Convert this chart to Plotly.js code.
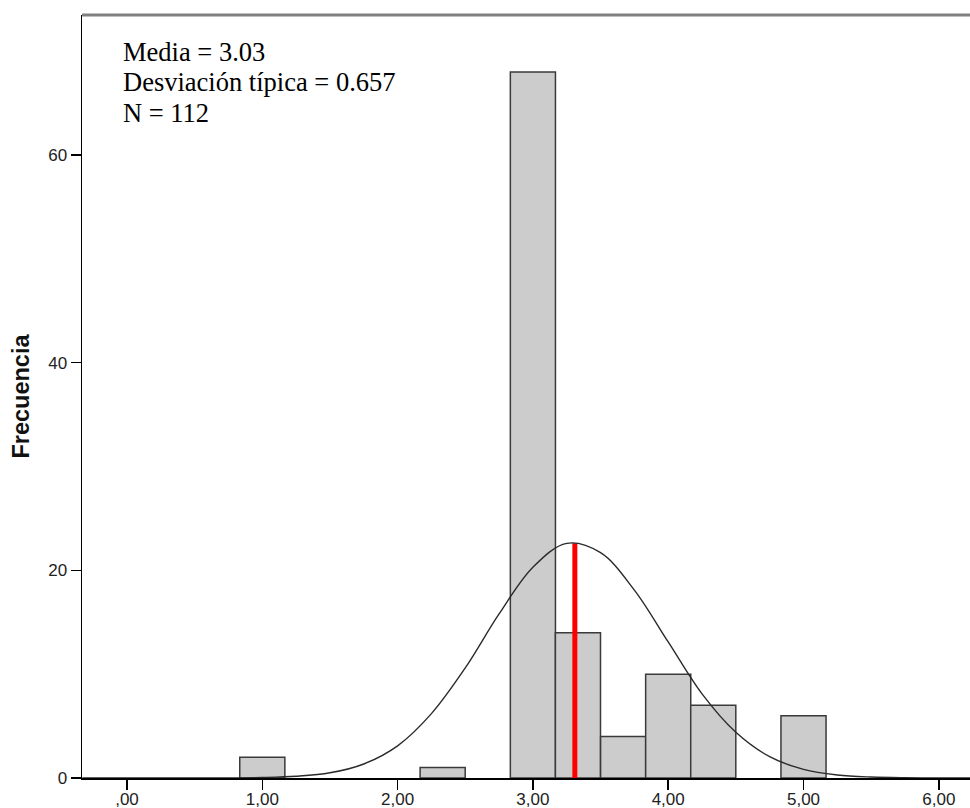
<!DOCTYPE html>
<html>
<head>
<meta charset="utf-8">
<script src="https://cdn.plot.ly/plotly-3.0.1.min.js"></script>
<style>html,body{margin:0;padding:0;background:#fff;}#chart{width:970px;height:808px;}</style>
</head>
<body>
<div id="chart"></div>
<script>
// Histogram bins (centers, width 1/3) and frequencies
const binCenters = [1.0, 2.333, 3.0, 3.333, 3.667, 4.0, 4.333, 5.0];
const binWidth = 0.3333;
const counts = [2, 1, 68, 14, 4, 10, 7, 6];

// Normal curve
const curveX = [-0.33, 0.5, 0.75, 1.0, 1.25, 1.5, 1.75, 2.0, 2.25, 2.5, 2.75, 3.0, 3.25, 3.5, 3.75, 4.0, 4.25, 4.5, 4.75, 5.0, 5.25, 5.5, 5.75, 6.0, 6.25];
const curveY = [0, 0, 0.01, 0.05, 0.17, 0.5, 1.35, 3.1, 6.2, 10.6, 15.8, 20.3, 22.6, 21.7, 18.1, 13.1, 8.1, 4.4, 2.05, 0.83, 0.29, 0.09, 0.02, 0.005, 0];

// Mean marker
const meanX = [3.31, 3.31];
const meanY = [0, 22.6];

// Tick labels
const xTickVals = [0, 1, 2, 3, 4, 5, 6];
const xTickText = [',00', '1,00', '2,00', '3,00', '4,00', '5,00', '6,00'];
const yTickVals = [0, 20, 40, 60];
const yTickText = ['0', '20', '40', '60'];

// Statistics text
const statsLines = ['Media = 3.03', 'Desviación típica = 0.657', 'N = 112'];

const traces = [
  {
    type: 'bar', x: binCenters, y: counts, width: binWidth,
    marker: {color: '#cccccc', line: {color: '#3a3a3a', width: 1.5}},
    hoverinfo: 'x+y', showlegend: false
  },
  {
    type: 'scatter', mode: 'lines', x: meanX, y: meanY,
    line: {color: '#ff0000', width: 5}, showlegend: false
  },
  {
    type: 'scatter', mode: 'lines', x: curveX, y: curveY,
    line: {color: '#2a2a2a', width: 1.4, shape: 'spline', smoothing: 1}, showlegend: false
  }
];

const pxTop = [52, 82.5, 113];
const annotations = statsLines.map((t, i) => ({
  text: t, xref: 'paper', yref: 'paper',
  x: (121 - 82) / 888, y: (778 - pxTop[i]) / 763,
  xanchor: 'left', yanchor: 'middle', showarrow: false,
  font: {family: 'Liberation Serif, Times New Roman, serif', size: 26.5, color: '#000'}
}));

const layout = {
  width: 970, height: 808,
  margin: {l: 82, r: 0, t: 15, b: 30},
  paper_bgcolor: '#ffffff', plot_bgcolor: '#ffffff',
  bargap: 0,
  xaxis: {
    range: [-0.3326, 6.2306], showgrid: false, zeroline: false,
    showline: true, linecolor: '#000', linewidth: 1.5,
    tickmode: 'array', tickvals: xTickVals, ticktext: xTickText,
    ticks: 'outside', ticklen: 10, tickwidth: 1.5, tickcolor: '#000',
    ticklabelstandoff: -5,
    tickfont: {family: 'Liberation Sans, Arial, sans-serif', size: 17, color: '#222'}
  },
  yaxis: {
    range: [0, 73.49], showgrid: false, zeroline: false,
    showline: true, linecolor: '#000', linewidth: 1.5,
    tickmode: 'array', tickvals: yTickVals, ticktext: yTickText,
    ticks: 'outside', ticklen: 10, tickwidth: 1.5, tickcolor: '#000',
    tickfont: {family: 'Liberation Sans, Arial, sans-serif', size: 17, color: '#222'},
    title: {text: '<b>Frecuencia</b>', font: {family: 'Liberation Sans, Arial, sans-serif', size: 23.5, color: '#111'}, standoff: 12}
  },
  shapes: [
    {type: 'line', xref: 'paper', yref: 'paper', x0: 0, x1: 1, y0: 1, y1: 1,
     line: {color: '#808080', width: 3}}
  ],
  annotations: annotations
};

Plotly.newPlot('chart', traces, layout, {displayModeBar: false, staticPlot: true});
</script>
</body>
</html>
